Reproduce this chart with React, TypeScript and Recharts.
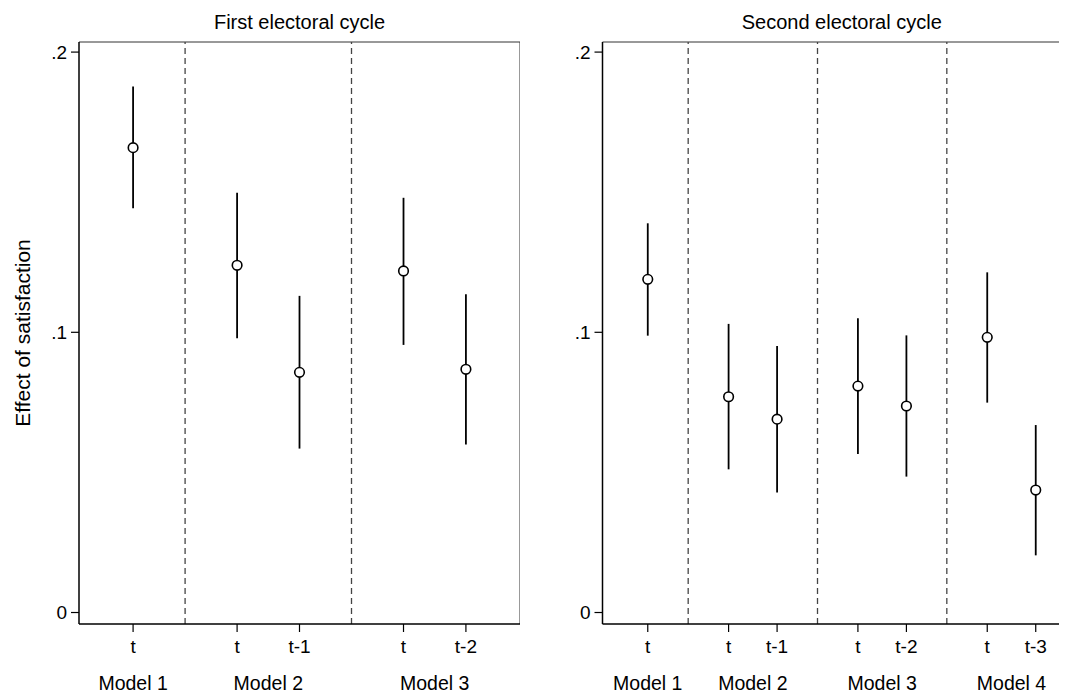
import React from "react";
import {
  ComposedChart,
  Scatter,
  ErrorBar,
  XAxis,
  YAxis,
  ReferenceLine,
  Label,
} from "recharts";

const firstLags = ["t", "t", "t-1", "t", "t-2"];
const firstModels = ["Model 1", "Model 2", "Model 2", "Model 3", "Model 3"];
const firstEst = [0.1659, 0.1239, 0.0857, 0.1219, 0.0868];
const firstLo = [0.1443, 0.0979, 0.0585, 0.0955, 0.06];
const firstHi = [0.1877, 0.1498, 0.113, 0.148, 0.1136];

const secondLags = ["t", "t", "t-1", "t", "t-2", "t", "t-3"];
const secondModels = ["Model 1", "Model 2", "Model 2", "Model 3", "Model 3", "Model 4", "Model 4"];
const secondEst = [0.1189, 0.077, 0.069, 0.0808, 0.0737, 0.0982, 0.0437];
const secondLo = [0.0988, 0.0511, 0.0428, 0.0566, 0.0485, 0.0749, 0.0204];
const secondHi = [0.1389, 0.103, 0.0951, 0.105, 0.0989, 0.1214, 0.0669];

const yTicks = [0, 0.1, 0.2];
const yDomain: [number, number] = [-0.0041, 0.2036];

const FONT = '"Liberation Sans", Arial, Helvetica, sans-serif';
const TICK_SIZE = 19;
const MODEL_SIZE = 19.5;
const TITLE_SIZE = 20;
const YLABEL_SIZE = 21;

function layout(models: string[]) {
  const pos: number[] = [];
  models.forEach((m, i) => {
    if (i === 0) pos.push(0);
    else pos.push(pos[i - 1] + (m === models[i - 1] ? 3 : 5));
  });
  const groups: { name: string; center: number }[] = [];
  const dividers: number[] = [];
  models.forEach((m, i) => {
    if (i === 0 || m !== models[i - 1]) {
      const idx = models.map((mm, j) => (mm === m ? j : -1)).filter((j) => j >= 0);
      const c = idx.reduce((s, j) => s + pos[j], 0) / idx.length;
      groups.push({ name: m, center: c });
      if (i > 0) dividers.push((pos[i - 1] + pos[i]) / 2);
    }
  });
  return { pos, groups, dividers };
}

const fmtY = (v: number) => (v === 0 ? "0" : String(v).replace(/^0\./, "."));

type PanelProps = {
  title: string;
  lags: string[];
  models: string[];
  est: number[];
  lo: number[];
  hi: number[];
  left: number;
  width: number;
  yAxisWidth: number;
  xDomain: [number, number];
  showYLabel?: boolean;
};

function Panel(p: PanelProps) {
  const { pos, groups, dividers } = layout(p.models);
  const data = p.est.map((e, i) => ({
    x: pos[i],
    est: e,
    err: [e - p.lo[i], p.hi[i] - e],
  }));
  const plotW = p.width - p.yAxisWidth;
  const tickStyle = { fill: "#000", fontSize: TICK_SIZE, fontFamily: FONT };
  return (
    <div style={{ position: "absolute", left: p.left, top: 0, width: p.width, height: 700 }}>
      <div
        style={{
          position: "absolute",
          left: p.yAxisWidth,
          width: plotW,
          top: 10,
          lineHeight: "24px",
          textAlign: "center",
          fontFamily: FONT,
          fontSize: TITLE_SIZE,
          color: "#000",
        }}
      >
        {p.title}
      </div>
      <ComposedChart
        width={p.width}
        height={700}
        data={data}
        margin={{ top: 42, right: 0, bottom: 0, left: 0 }}
      >
        <XAxis
          xAxisId="lag"
          dataKey="x"
          type="number"
          domain={p.xDomain}
          allowDataOverflow
          ticks={pos}
          interval={0}
          tickFormatter={(v: number) => {
            const i = pos.indexOf(v);
            return i >= 0 ? p.lags[i] : "";
          }}
          height={40}
          tickSize={8}
          tickMargin={8}
          stroke="#000"
          tick={tickStyle}
          axisLine={{ stroke: "#000", strokeWidth: 1.5 }}
          tickLine={{ stroke: "#000", strokeWidth: 1.2 }}
        />
        <XAxis
          xAxisId="model"
          dataKey="x"
          type="number"
          domain={p.xDomain}
          allowDataOverflow
          ticks={groups.map((g) => g.center)}
          interval={0}
          tickFormatter={(v: number) => {
            const g = groups.find((gg) => Math.abs(gg.center - v) < 1e-9);
            return g ? g.name : "";
          }}
          height={36}
          tickSize={0}
          tickMargin={12}
          axisLine={false}
          tickLine={false}
          tick={{ fill: "#000", fontSize: MODEL_SIZE, fontFamily: FONT }}
        />
        <YAxis
          dataKey="est"
          type="number"
          domain={yDomain}
          allowDataOverflow
          ticks={yTicks}
          interval={0}
          tickFormatter={fmtY}
          width={p.yAxisWidth}
          tickSize={8}
          tickMargin={4}
          tick={tickStyle}
          axisLine={{ stroke: "#000", strokeWidth: 1.5 }}
          tickLine={{ stroke: "#000", strokeWidth: 1.2 }}
        >
          {p.showYLabel && (
            <Label
              content={(lp: any) => {
                const vb = lp.viewBox || {};
                const cx = (vb.x || 0) + 22;
                const cy = (vb.y || 0) + (vb.height || 0) / 2;
                return (
                  <text
                    x={cx}
                    y={cy}
                    transform={`rotate(-90 ${cx} ${cy})`}
                    textAnchor="middle"
                    dominantBaseline="central"
                    fontFamily={FONT}
                    fontSize={YLABEL_SIZE}
                    fill="#000"
                  >
                    Effect of satisfaction
                  </text>
                );
              }}
            />
          )}
        </YAxis>
        <ReferenceLine
          xAxisId="lag"
          y={yDomain[1]}
          stroke="#333"
          strokeWidth={1}
          ifOverflow="visible"
        />
        <ReferenceLine
          xAxisId="lag"
          x={p.xDomain[1]}
          stroke="#333"
          strokeWidth={1}
          ifOverflow="visible"
        />
        {dividers.map((d, i) => (
          <ReferenceLine
            key={i}
            xAxisId="lag"
            x={d}
            stroke="#444"
            strokeWidth={1.3}
            strokeDasharray="6 4"
          />
        ))}
        <Scatter
          xAxisId="lag"
          dataKey="est"
          isAnimationActive={false}
          shape={(sp: any) => (
            <circle cx={sp.cx} cy={sp.cy} r={4.8} fill="#fff" stroke="#000" strokeWidth={1.6} />
          )}
        >
          <ErrorBar dataKey="err" direction="y" width={0} stroke="#000" strokeWidth={1.8} />
        </Scatter>
      </ComposedChart>
    </div>
  );
}

export default function App() {
  return (
    <div style={{ width: 1051, height: 684, position: "relative" }}>
      <div
        style={{
          position: "absolute",
          left: -8,
          top: -8,
          width: 1067,
          height: 700,
          overflow: "hidden",
          background: "#fff",
        }}
      >
        <Panel
          title="First electoral cycle"
          lags={firstLags}
          models={firstModels}
          est={firstEst}
          lo={firstLo}
          hi={firstHi}
          left={0}
          width={520}
          yAxisWidth={79}
          xDomain={[-2.6, 18.6]}
          showYLabel
        />
        <Panel
          title="Second electoral cycle"
          lags={secondLags}
          models={secondModels}
          est={secondEst}
          lo={secondLo}
          hi={secondHi}
          left={530}
          width={551}
          yAxisWidth={72.5}
          xDomain={[-2.8, 26.8]}
        />
      </div>
    </div>
  );
}
